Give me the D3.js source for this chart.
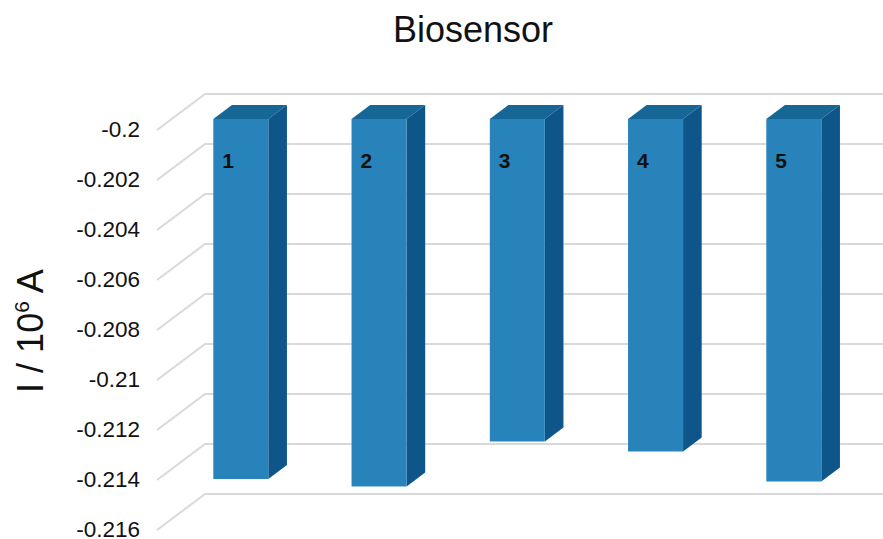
<!DOCTYPE html>
<html>
<head>
<meta charset="utf-8">
<script src="https://cdn.jsdelivr.net/npm/d3@7/dist/d3.min.js"></script>
<style>
  html, body { margin: 0; padding: 0; background: #fff; }
  svg { display: block; font-family: "Liberation Sans", Arial, sans-serif; }
</style>
</head>
<body>
<svg id="chart" width="883" height="539"></svg>
<script>
// Measurement data
const categories = ["1", "2", "3", "4", "5"];
const currents = [-0.2144, -0.2147, -0.2129, -0.2133, -0.2145];
const tickValues = [-0.2, -0.202, -0.204, -0.206, -0.208, -0.21, -0.212, -0.214, -0.216];
const tickLabels = ["-0.2", "-0.202", "-0.204", "-0.206", "-0.208", "-0.21", "-0.212", "-0.214", "-0.216"];
const title = "Biosensor";

const svg = d3.select("#chart");

// Front plane of the 3D box; depth vector points up and to the right
const frontLeft = 157, step = 138.25;
const depth = { dx: 48, dy: -36 };
const barDepth0 = 0.306, barDepth1 = 0.694;

const x = d3.scaleBand()
  .domain(categories)
  .range([frontLeft, frontLeft + step * categories.length])
  .paddingInner(0.602)
  .paddingOuter(0.301);

const y = d3.scaleLinear().domain([-0.216, -0.2]).range([530, 130]);

const colors = { front: "#2783b9", side: "#0e5589", top: "#176796", grid: "#d9d9d9" };

// Gridlines: side wall diagonal + back wall horizontal
const grid = svg.append("g");
tickValues.forEach(t => {
  const y0 = y(t);
  grid.append("polyline")
    .attr("points", [
      [frontLeft, y0],
      [frontLeft + depth.dx, y0 + depth.dy],
      [frontLeft + step * categories.length + depth.dx, y0 + depth.dy]
    ].map(p => p.join(",")).join(" "))
    .attr("fill", "none")
    .attr("stroke", colors.grid)
    .attr("stroke-width", 2);
});

// Tick labels
svg.append("g").selectAll("text")
  .data(tickValues)
  .join("text")
  .attr("x", 140)
  .attr("y", d => y(d))
  .attr("dy", "0.33em")
  .attr("text-anchor", "end")
  .attr("font-size", 22.5)
  .attr("fill", "#111")
  .text((d, i) => tickLabels[i]);

// Bars
const bars = svg.append("g");
const base = -0.2;
categories.forEach((c, i) => {
  const ox = depth.dx * barDepth0, oy = depth.dy * barDepth0;
  const bx = x(c) + ox, bw = x.bandwidth();
  const yt = y(base) + oy, yb = y(currents[i]) + oy;
  const sdx = depth.dx * (barDepth1 - barDepth0), sdy = depth.dy * (barDepth1 - barDepth0);
  const g = bars.append("g");
  // top face
  g.append("polygon")
    .attr("points", [[bx, yt], [bx + sdx, yt + sdy], [bx + bw + sdx, yt + sdy], [bx + bw, yt]].map(p => p.join(",")).join(" "))
    .attr("fill", colors.top);
  // side face
  g.append("polygon")
    .attr("points", [[bx + bw, yt], [bx + bw + sdx, yt + sdy], [bx + bw + sdx, yb + sdy], [bx + bw, yb]].map(p => p.join(",")).join(" "))
    .attr("fill", colors.side);
  // front face
  g.append("rect")
    .attr("x", bx).attr("y", yt)
    .attr("width", bw).attr("height", yb - yt)
    .attr("fill", colors.front);
  // category label inside the bar
  g.append("text")
    .attr("x", bx + 9)
    .attr("y", yt + 49)
    .attr("font-size", 21)
    .attr("font-weight", "bold")
    .attr("fill", "#111")
    .text(c);
});

// Title
svg.append("text")
  .attr("x", 473)
  .attr("y", 42)
  .attr("text-anchor", "middle")
  .attr("font-size", 36)
  .attr("fill", "#111")
  .text(title);

// Y-axis title
const yTitle = svg.append("text")
  .attr("transform", "translate(43,331) rotate(-90)")
  .attr("text-anchor", "middle")
  .attr("font-size", 36)
  .attr("fill", "#111");
yTitle.append("tspan").text("I / 10");
yTitle.append("tspan").attr("font-size", 21).attr("dy", -14).text("6");
yTitle.append("tspan").attr("dy", 14).text(" A");
</script>
</body>
</html>
